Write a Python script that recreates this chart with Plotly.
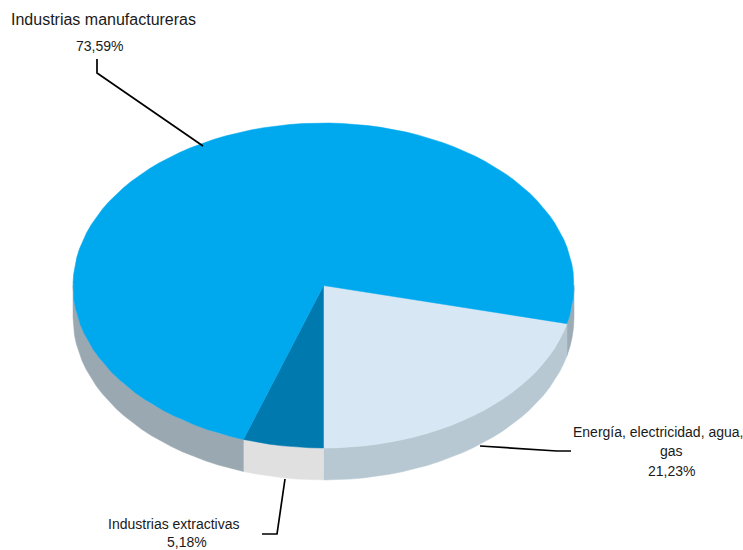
import numpy as np
import plotly.graph_objects as go

categories = ["Energía, electricidad, agua, gas", "Industrias manufactureras", "Industrias extractivas"]
values = [21.23, 73.59, 5.18]
top_colors = ["#D7E8F4", "#00A8EE", "#0079AF"]
side_colors = ["#B8C8D2", "#9AA8B1", "#E0E0E0"]
right_side_color = "#9DABB4"

CX, CY, RX, RY, DEPTH = 323.5, 285.5, 250.5, 162.5, 32.0
STEP = 3.0

def arc(a0, a1):
    n = max(2, int(abs(a1 - a0) / STEP) + 1)
    t = np.radians(np.linspace(a0, a1, n))
    return CX + RX * np.cos(t), CY + RY * np.sin(t)

total = sum(values)
sweeps = [v / total * 360 for v in values]
start = 90 - sweeps[0]
order = [0, 2, 1]
angles = {}
a = start
for i in order:
    angles[i] = (a, a + sweeps[i])
    a += sweeps[i]

fig = go.Figure()

def add_poly(x, y, color):
    fig.add_trace(go.Scatter(x=np.r_[x, x[0]], y=np.r_[y, y[0]], mode="lines", fill="toself",
                             fillcolor=color, line=dict(width=0.5, color=color),
                             hoverinfo="skip", showlegend=False))

def add_wall(a0, a1, color):
    x, y = arc(a0, a1)
    add_poly(np.r_[x, x[::-1]], np.r_[y, y[::-1] + DEPTH], color)

e0, e1 = angles[0]
add_wall(0, e0, right_side_color)
add_wall(max(e0, 0), e1, side_colors[0])
x0, x1 = angles[2]
add_wall(x0, x1, side_colors[2])
m0, m1 = angles[1]
add_wall(m0, 180, side_colors[1])

for i in order:
    a0, a1 = angles[i]
    x, y = arc(a0, a1)
    add_poly(np.r_[CX, x], np.r_[CY, y], top_colors[i])

FONT = "Liberation Sans"
INK = "#1a1a1a"
def label(x, y, text, size):
    return dict(x=x, y=y, text=text, showarrow=False, xref="x", yref="y", xanchor="center", yanchor="middle",
                font=dict(family=FONT, size=size, color=INK), align="center")

annotations = [
    label(103, 19, categories[1], 16),
    label(99.5, 46, "73,59%", 14),
    label(657.5, 431.5, "Energía, electricidad, agua,", 14),
    label(671.5, 451, "gas", 14),
    label(671.5, 470.5, "21,23%", 14),
    label(174, 523.5, categories[2], 14),
    label(187, 542, "5,18%", 14),
]

leaders = ["M97,59 L97,73 L203,146", "M285,479 L277,534 L262,534", "M480,446 L557,451 L571,451"]
shapes = [dict(type="path", path=p, xref="x", yref="y", line=dict(color="#000000", width=1.7)) for p in leaders]

fig.update_layout(
    width=743, height=550, margin=dict(l=0, r=0, t=0, b=0),
    paper_bgcolor="white", plot_bgcolor="white", showlegend=False,
    xaxis=dict(range=[0, 743], visible=False, fixedrange=True),
    yaxis=dict(range=[550, 0], visible=False, fixedrange=True),
    annotations=annotations, shapes=shapes,
)
fig.write_html("out.html", post_script="document.body.style.margin='0';", config={"displayModeBar": False})
